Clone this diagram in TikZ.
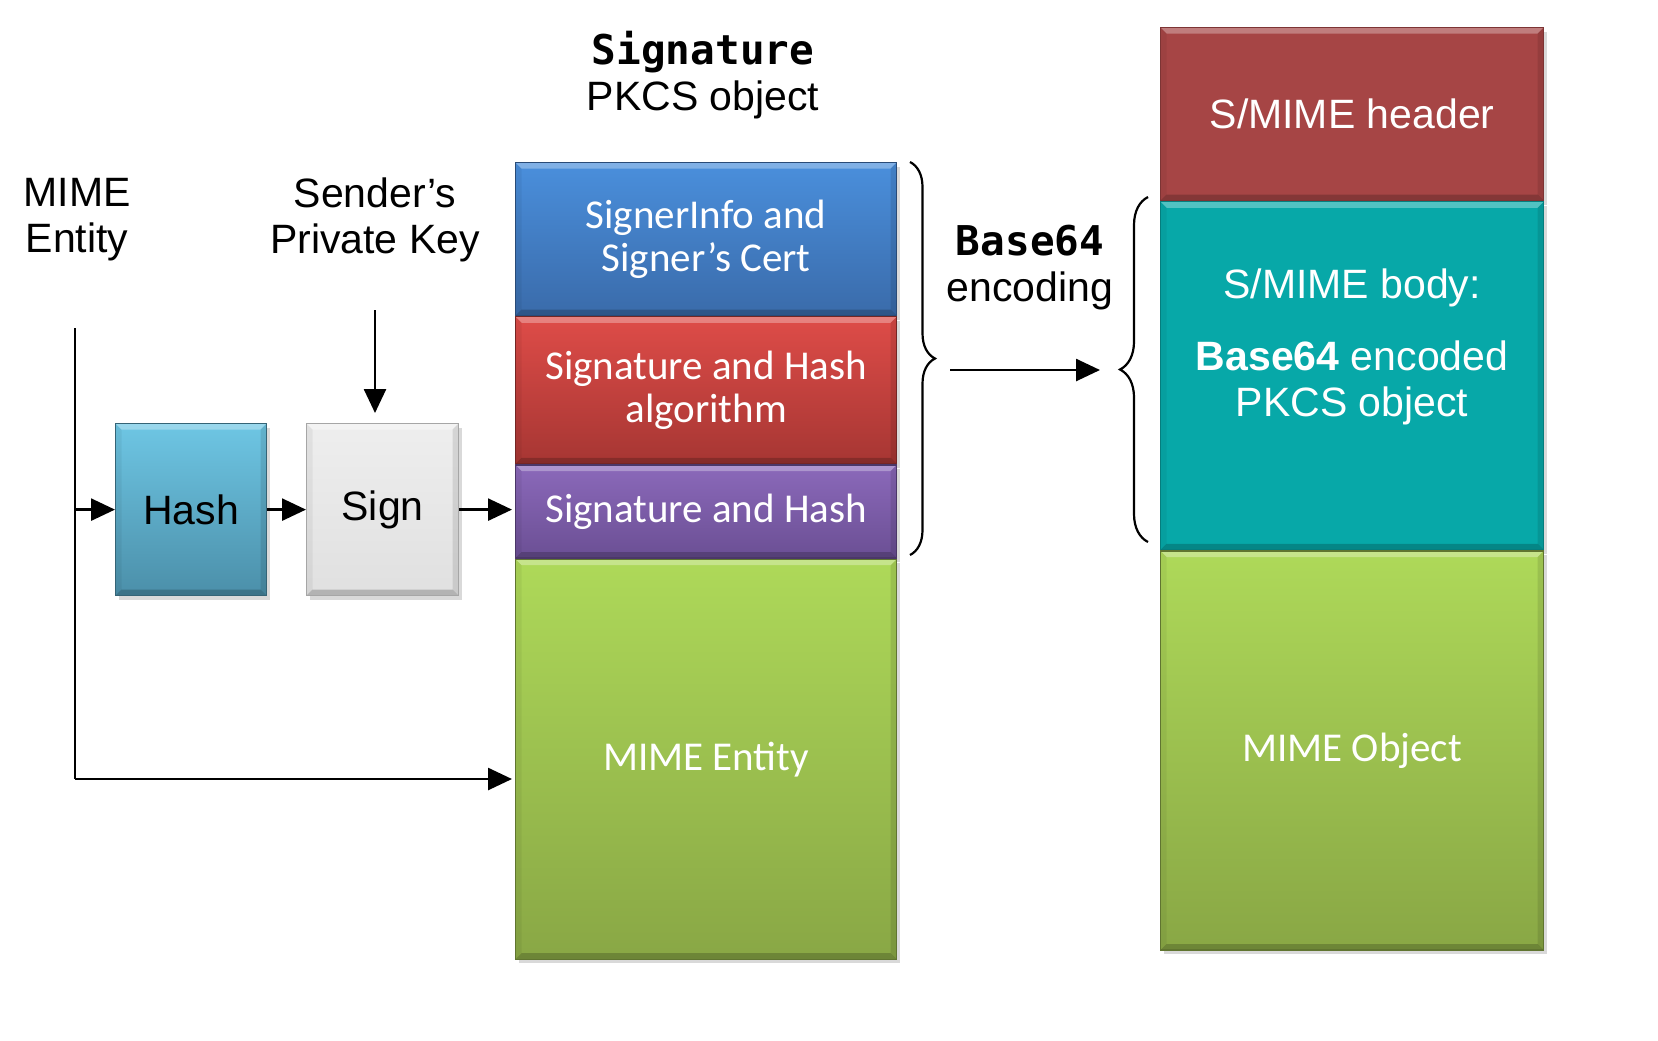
\documentclass[tikz,border=0pt]{standalone}
\usepackage{fontspec}
\setmainfont{Liberation Sans}
\setmonofont{DejaVu Sans Mono}
\newfontfamily\calfont{Carlito}
\usepackage{tikz}
\usetikzlibrary{positioning, arrows.meta, shadows, decorations.pathreplacing}
\definecolor{hashTop}{HTML}{6EC6E4}
\definecolor{hashBot}{HTML}{4B8FA9}
\definecolor{signTop}{HTML}{EEEEEE}
\definecolor{signBot}{HTML}{E0E0E0}
\definecolor{infoTop}{HTML}{4A8FDC}
\definecolor{infoBot}{HTML}{3A6BAA}
\definecolor{algTop}{HTML}{DE4C48}
\definecolor{algBot}{HTML}{A63633}
\definecolor{sigTop}{HTML}{8B69BA}
\definecolor{sigBot}{HTML}{6B4F94}
\definecolor{greenTop}{HTML}{AED959}
\definecolor{greenBot}{HTML}{89A745}
\definecolor{hdrColor}{HTML}{A64545}
\definecolor{bodyColor}{HTML}{07A8A8}

\begin{document}
\begin{tikzpicture}[
  x=0.5pt, y=-0.5pt,
  node distance=0pt,
  every node/.style={font=\fontsize{20.5}{23}\selectfont},
  arr/.style={draw=black, line width=1.3pt, -{Triangle[length=12pt,width=11pt]}},
  wire/.style={draw=black, line width=1.3pt},
  curly/.style={draw=black, line width=1.1pt, decorate, decoration={brace, amplitude=#1}},
  bevel/.style={path picture={
    \fill[white, opacity=0.3] (path picture bounding box.north west)
      -- (path picture bounding box.north east)
      -- ([xshift=-3pt, yshift=-3pt]path picture bounding box.north east)
      -- ([xshift=3pt, yshift=-3pt]path picture bounding box.north west) -- cycle;
    \fill[black, opacity=0.2] (path picture bounding box.south west)
      -- (path picture bounding box.south east)
      -- ([xshift=-3pt, yshift=3pt]path picture bounding box.south east)
      -- ([xshift=3pt, yshift=3pt]path picture bounding box.south west) -- cycle;
    \fill[black, opacity=0.1] (path picture bounding box.north east)
      -- (path picture bounding box.south east)
      -- ([xshift=-3pt, yshift=3pt]path picture bounding box.south east)
      -- ([xshift=-3pt, yshift=-3pt]path picture bounding box.north east) -- cycle;
    \fill[black, opacity=0.05] (path picture bounding box.north west)
      -- (path picture bounding box.south west)
      -- ([xshift=3pt, yshift=3pt]path picture bounding box.south west)
      -- ([xshift=3pt, yshift=-3pt]path picture bounding box.north west) -- cycle;
  }},
  block/.style={rectangle, inner sep=0pt, align=center, line width=0.6pt, bevel,
    drop shadow={shadow xshift=1.5pt, shadow yshift=-2pt, opacity=0.3}},
  layer/.style={block, text=white, font=\calfont\fontsize{20.5}{21.5}\selectfont,
    minimum width=190.5pt},
  part/.style={block, text=white, minimum width=191.5pt}
]
\useasboundingbox (0,0) rectangle (1658,1040);

% input side
\node[align=center] (mimeLbl) at (77,220) {MIME\\Entity};
\node[align=center] (keyLbl) at (375,220) {Sender’s\\Private Key};
\node[block, anchor=north west, minimum width=75.5pt, minimum height=86pt,
  top color=hashTop, bottom color=hashBot, draw=hashBot!70!black] (hash) at (115,423) {Hash};
\node[block, anchor=north west, minimum width=76pt, minimum height=86pt,
  top color=signTop, bottom color=signBot, draw=black!35] (sign) at (306,423) {Sign};

% PKCS object
\node[align=center] (pkcsLbl) at (703,75) {\ttfamily\bfseries Signature\\PKCS object};
\node[layer, anchor=north west, minimum height=76.5pt,
  top color=infoTop, bottom color=infoBot, draw=infoBot!70!black] (info) at (515,162)
  {SignerInfo and\\Signer’s Cert};
\node[layer, below=of info, minimum height=73.5pt,
  top color=algTop, bottom color=algBot, draw=algBot!70!black] (alg)
  {Signature and Hash\\algorithm};
\node[layer, below=of alg, minimum height=46.5pt,
  top color=sigTop, bottom color=sigBot, draw=sigBot!70!black] (sig)
  {Signature and Hash};
\node[layer, below=of sig, minimum height=200pt,
  top color=greenTop, bottom color=greenBot, draw=greenBot!70!black] (entity)
  {MIME Entity};

% S/MIME message
\node[part, anchor=north west, minimum height=86.5pt,
  fill=hdrColor, draw=hdrColor!75!black] (hdr) at (1160,27) {S/MIME header};
\node[part, below=of hdr, minimum height=174pt,
  fill=bodyColor, draw=bodyColor!75!black] (body) {};
\node[part, below=of body, minimum height=199.5pt,
  top color=greenTop, bottom color=greenBot, draw=greenBot!70!black] (obj)
  {\calfont MIME Object};
\node[text=white, align=center, yshift=14.5pt] (bodyTxt) at (body.center)
  {S/MIME body:\\[13pt]\textbf{Base64} encoded\\PKCS object};

\node[align=center] (encLbl) at (1030,268) {\ttfamily\bfseries Base64\\encoding};

% connectors
\coordinate (mimeTop) at (75,328);
\coordinate (mimeCorner) at (75,779);
\coordinate (keyTop) at (375,310);
\coordinate (encL) at (950,370);
\coordinate (encR) at (1100,370);
\draw[wire] (mimeTop) -- (mimeCorner);
\draw[arr] (mimeCorner) -- ([xshift=-1.5pt]mimeCorner -| entity.west);
\draw[arr] (mimeTop |- hash.west) -- (hash.west);
\draw[arr] (hash) -- (sign);
\draw[arr] (sign.east) -- ([xshift=-1.5pt]sign.east -| sig.west);
\draw[arr] (keyTop) -- ([yshift=5pt]keyTop |- sign.north);
\draw[arr] (encL) -- (encR);

% braces
\coordinate (braceA) at (910,162);
\coordinate (braceB) at (910,555);
\coordinate (braceC) at (1148,542);
\coordinate (braceD) at (1148,197);
\draw[curly=12.5pt] (braceA) -- (braceB);
\draw[curly=14pt] (braceC) -- (braceD);
\end{tikzpicture}
\end{document}
